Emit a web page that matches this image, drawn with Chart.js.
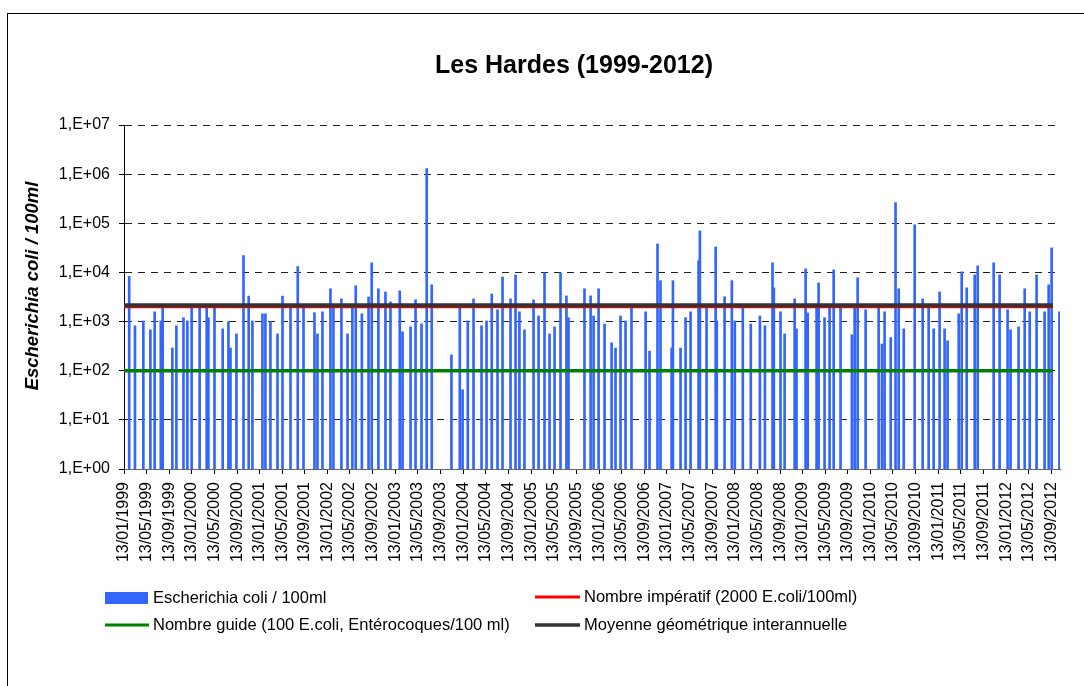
<!DOCTYPE html>
<html>
<head>
<meta charset="utf-8">
<script src="https://cdn.jsdelivr.net/npm/chart.js@4.4.1/dist/chart.umd.min.js"></script>
<style>
  html, body { margin: 0; padding: 0; background: #ffffff; }
  #wrap { width: 1084px; height: 686px; position: relative; }
</style>
</head>
<body>
<div id="wrap"><canvas id="c" width="1084" height="686"></canvas></div>
<script>
// ---------- DATA ----------
const chartTitle = 'Les Hardes (1999-2012)';
const yAxisTitle = 'Escherichia coli / 100ml';

const sampleDates = [
  '1999-02-10','1999-03-13','1999-04-27','1999-06-04','1999-06-27','1999-07-30','1999-08-09','1999-09-30','1999-10-22','1999-11-29','1999-12-20',
  '2000-01-12','2000-02-24','2000-04-02','2000-04-11','2000-05-14','2000-06-27','2000-07-28','2000-08-08','2000-09-09','2000-10-17','2000-11-14','2000-12-04',
  '2001-01-27','2001-02-12','2001-03-11','2001-04-18','2001-05-15','2001-06-27','2001-08-05','2001-09-05','2001-11-03','2001-11-19','2001-12-16',
  '2002-01-28','2002-02-13','2002-03-28','2002-04-30','2002-05-26','2002-06-13','2002-07-16','2002-08-21','2002-09-07','2002-10-13','2002-11-20','2002-12-17',
  '2003-02-05','2003-02-20','2003-04-04','2003-05-01','2003-06-02','2003-06-30','2003-07-27','2003-11-10','2003-12-25',
  '2004-01-09','2004-02-06','2004-03-08','2004-04-20','2004-05-17','2004-06-14','2004-07-15','2004-08-11','2004-09-23','2004-10-20','2004-11-10','2004-12-07',
  '2005-01-25','2005-02-21','2005-03-25','2005-04-21','2005-05-18','2005-06-19','2005-07-21','2005-08-01','2005-10-26','2005-11-28','2005-12-14',
  '2006-01-10','2006-02-11','2006-03-21','2006-04-11','2006-05-08','2006-06-04','2006-07-06','2006-09-20','2006-10-11','2006-11-23','2006-12-09',
  '2007-02-07','2007-02-14','2007-03-27','2007-04-23','2007-05-20','2007-07-02','2007-07-09','2007-08-14','2007-10-02','2007-10-08','2007-11-19','2007-12-28',
  '2008-01-13','2008-02-25','2008-04-08','2008-05-27','2008-06-23','2008-08-03','2008-08-10','2008-09-15','2008-10-07','2008-11-30','2008-12-10',
  '2009-01-28','2009-02-08','2009-03-28','2009-04-08','2009-05-10','2009-06-06','2009-06-28','2009-08-04','2009-10-04','2009-10-19','2009-11-04','2009-12-17',
  '2010-02-25','2010-03-15','2010-03-29','2010-05-01','2010-05-27','2010-06-13','2010-07-10','2010-09-07','2010-10-20','2010-11-21','2010-12-18',
  '2011-01-19','2011-02-15','2011-03-03','2011-05-02','2011-05-18','2011-06-14','2011-07-27','2011-08-12','2011-11-06','2011-12-08',
  '2012-01-20','2012-02-05','2012-03-19','2012-04-21','2012-05-18','2012-06-24','2012-08-06','2012-08-28','2012-09-13','2012-10-25'
];

const ecoliValues = [
  8300,820,1030,680,1580,1030,2000,290,820,1200,1030,
  2000,1900,2100,1200,2000,710,1000,290,560,22000,3300,1030,
  1440,1440,1000,560,3300,2000,13200,2000,1520,560,1580,
  4650,2000,2900,560,2000,5350,1440,3170,15700,4650,4000,2520,
  4230,620,780,2770,900,1300000,5600,210,2000,
  41,1030,2900,820,1030,3650,1740,8100,2900,8900,1580,680,
  2770,1300,9800,560,780,9800,3330,1200,4650,3330,1300,
  4650,890,370,290,1300,1030,2000,1580,250,38000,6800,
  290,6800,290,1200,1580,17300,70000,2000,33000,1030,3200,6800,
  1030,2000,890,1300,820,15700,4850,1580,560,2900,710,
  11800,1500,2000,6100,1200,2000,11300,2000,540,2000,7800,1740,
  2000,350,1580,470,263000,4650,710,93000,2900,2000,710,
  4000,710,405,1440,10300,4850,8900,13600,15700,8900,
  1740,680,780,4650,1580,8900,1580,5600,31600,1580
];

const nombreImperatif = 2000;   // E.coli/100ml
const nombreGuide = 100;        // E.coli/100ml
const moyenneGeometrique = 2150;

const axisStartDate = '1999-01-13';
const axisEndDate = '2012-10-28';
const refLineEndDate = '2012-09-20';

const xTickLabels = [
  '13/01/1999','13/05/1999','13/09/1999','13/01/2000','13/05/2000','13/09/2000',
  '13/01/2001','13/05/2001','13/09/2001','13/01/2002','13/05/2002','13/09/2002',
  '13/01/2003','13/05/2003','13/09/2003','13/01/2004','13/05/2004','13/09/2004',
  '13/01/2005','13/05/2005','13/09/2005','13/01/2006','13/05/2006','13/09/2006',
  '13/01/2007','13/05/2007','13/09/2007','13/01/2008','13/05/2008','13/09/2008',
  '13/01/2009','13/05/2009','13/09/2009','13/01/2010','13/05/2010','13/09/2010',
  '13/01/2011','13/05/2011','13/09/2011','13/01/2012','13/05/2012','13/09/2012'
];
const yTickValues = [1, 10, 100, 1000, 10000, 100000, 1000000, 10000000];

const legendLabels = [
  'Escherichia coli / 100ml',
  'Nombre impératif (2000 E.coli/100ml)',
  'Nombre guide (100 E.coli, Entérocoques/100 ml)',
  'Moyenne géométrique interannuelle'
];

// ---------- HELPERS ----------
const ORIGIN = Date.UTC(1999, 0, 13);
function dayOfIso(s) { const [y, m, d] = s.split('-').map(Number); return (Date.UTC(y, m - 1, d) - ORIGIN) / 864e5; }
function dayOfFr(s) { const [d, m, y] = s.split('/').map(Number); return (Date.UTC(y, m - 1, d) - ORIGIN) / 864e5; }
function expLabel(v) { const e = Math.round(Math.log10(v)); return '1,E+' + (e < 10 ? '0' : '') + e; }

const FONT = "'Liberation Sans', Arial, Helvetica, sans-serif";
Chart.defaults.font.family = FONT;
Chart.defaults.color = '#000';

const COL_BAR = '#3366FF', COL_RED = '#FF0000', COL_GREEN = '#008000', COL_GRAY = '#333333';

const x0 = dayOfIso(axisStartDate), x1 = dayOfIso(refLineEndDate);
function hline(v) { return [{ x: x0, y: v }, { x: x1, y: v }]; }

// ---------- DECORATIONS PLUGIN ----------
const deco = {
  id: 'deco',
  afterDraw(chart) {
    const ctx = chart.ctx;
    ctx.save();
    // outer frame (extends beyond the picture at right/bottom)
    ctx.strokeStyle = '#000'; ctx.lineWidth = 1;
    ctx.strokeRect(7.5, 13.5, 1200, 1000);
    // title
    ctx.fillStyle = '#000';
    ctx.font = 'bold 25px ' + FONT;
    ctx.textAlign = 'center'; ctx.textBaseline = 'alphabetic';
    ctx.fillText(chartTitle, 574, 72.5);
    // y title
    ctx.save();
    ctx.translate(32.5, 286);
    ctx.rotate(-Math.PI / 2);
    ctx.font = 'italic bold 18.5px ' + FONT;
    ctx.textBaseline = 'middle';
    ctx.fillText(yAxisTitle, 0, 0);
    ctx.restore();
    // legend
    ctx.font = '16.5px ' + FONT;
    ctx.textAlign = 'left'; ctx.textBaseline = 'middle';
    ctx.fillStyle = COL_BAR; ctx.fillRect(105, 592, 43, 12);
    ctx.fillStyle = '#000'; ctx.fillText(legendLabels[0], 153, 598);
    const ln = (xa, xb, y, c, w) => { ctx.strokeStyle = c; ctx.lineWidth = w; ctx.beginPath(); ctx.moveTo(xa, y); ctx.lineTo(xb, y); ctx.stroke(); };
    ln(535, 580, 597, COL_RED, 3); ctx.fillText(legendLabels[1], 584, 597);
    ln(105, 149, 625, COL_GREEN, 3); ctx.fillText(legendLabels[2], 153, 625);
    ln(535, 580, 625, COL_GRAY, 3.5); ctx.fillText(legendLabels[3], 584, 625);
    ctx.restore();
  }
};

new Chart(document.getElementById('c'), {
  type: 'bar',
  data: {
    datasets: [
      { type: 'bar', label: legendLabels[0], data: sampleDates.map((d, i) => ({ x: dayOfIso(d), y: ecoliValues[i] })),
        backgroundColor: COL_BAR, borderWidth: 0, barThickness: 2, order: 4 },
      { type: 'line', label: legendLabels[1], data: hline(nombreImperatif), borderColor: COL_RED, borderWidth: 3, pointRadius: 0, fill: false, order: 3 },
      { type: 'line', label: legendLabels[2], data: hline(nombreGuide), borderColor: COL_GREEN, borderWidth: 3.5, pointRadius: 0, fill: false, order: 2 },
      { type: 'line', label: legendLabels[3], data: hline(moyenneGeometrique), borderColor: COL_GRAY, borderWidth: 4, pointRadius: 0, fill: false, order: 1 }
    ]
  },
  options: {
    responsive: false,
    animation: false,
    events: [],
    layout: { padding: { top: 125, right: 24, left: 0, bottom: 0 } },
    plugins: { legend: { display: false }, title: { display: false }, tooltip: { enabled: false } },
    scales: {
      x: {
        type: 'linear',
        offset: false,
        min: dayOfIso(axisStartDate),
        max: dayOfIso(axisEndDate),
        afterBuildTicks: s => { s.ticks = xTickLabels.map(l => ({ value: dayOfFr(l) })); },
        afterFit: s => { s.height = 686 - 469; },
        ticks: { autoSkip: false, minRotation: 90, maxRotation: 90, padding: 8,
                 font: { size: 16 }, color: '#000', callback: (v, i) => xTickLabels[i] },
        grid: { offset: false, drawOnChartArea: false, drawTicks: true, tickLength: 5, tickColor: '#000', tickWidth: 1 },
        border: { display: true, color: '#666', width: 1 }
      },
      y: {
        type: 'logarithmic',
        min: 1, max: 10000000,
        afterBuildTicks: s => { s.ticks = yTickValues.map(v => ({ value: v })); },
        afterFit: s => { s.width = 124; },
        ticks: { autoSkip: false, padding: 9, font: { size: 16 }, color: '#000', callback: v => expLabel(v) },
        grid: { color: c => (c.tick && c.tick.value === 1) ? 'rgba(0,0,0,0)' : '#222', lineWidth: 1,
                drawTicks: true, tickLength: 5, tickColor: '#000', tickWidth: 1 },
        border: { display: true, color: '#000', width: 1, dash: [7, 6] }
      }
    }
  },
  plugins: [deco]
});
</script>
</body>
</html>
